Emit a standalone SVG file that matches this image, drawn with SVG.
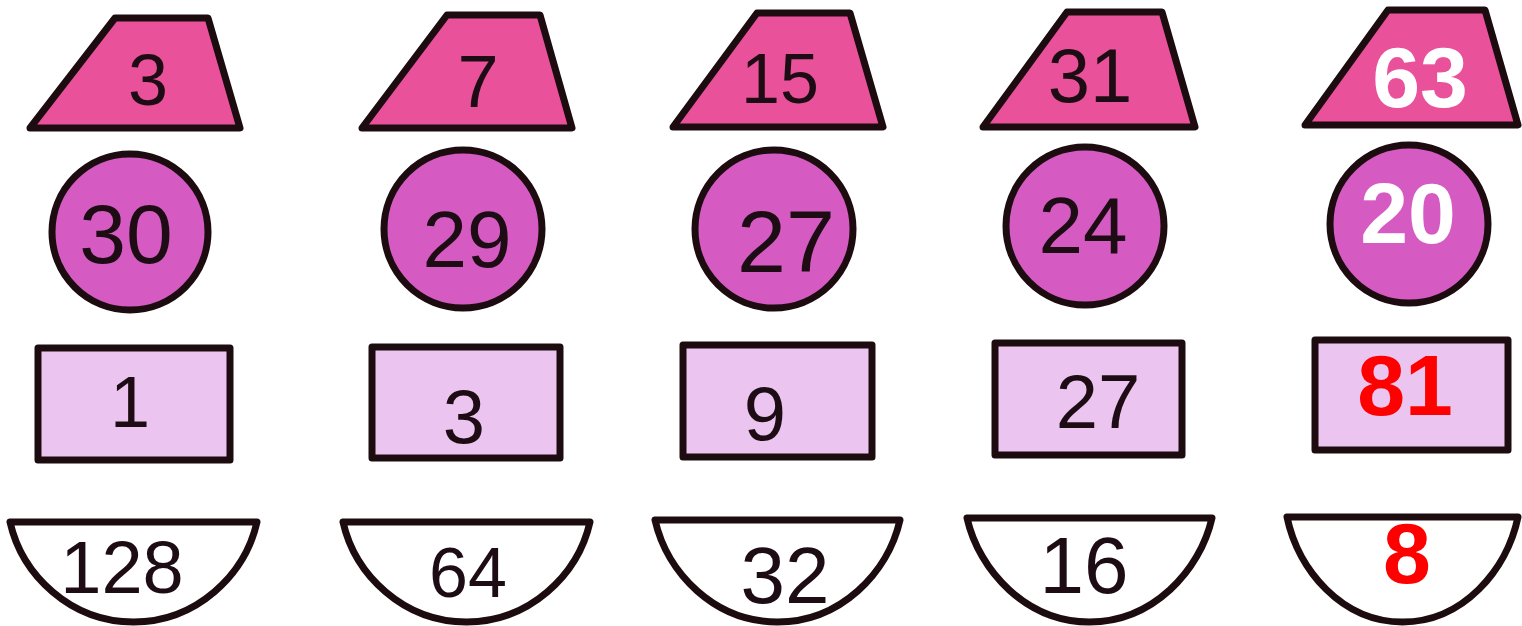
<svg xmlns="http://www.w3.org/2000/svg" width="1522" height="626" viewBox="0 0 1522 626">
<style>
.s{stroke:#1c0c10;stroke-width:7;stroke-linejoin:round}
.trap{fill:#E9519B}
.circ{fill:#D55BC3}
.rect{fill:#ECC4F0}
.half{fill:#FFFFFF}
.h{font-family:"Liberation Sans","DejaVu Sans",sans-serif;fill:#1e0c14;text-anchor:middle}
.b{font-family:"Liberation Sans",Arial,sans-serif;font-weight:bold;text-anchor:middle;font-size:86px}
</style>
<rect width="1522" height="626" fill="#FFFFFF"/>
<g id="connectors"/>
<!-- Column 1 -->
<g id="trap1"><polygon class="s trap" points="115,18 208,18 240,128 30,128"/><text class="h" x="148" y="105" font-size="72">3</text></g>
<g id="circ1"><circle class="s circ" cx="130" cy="232" r="78"/><text class="h" x="126" y="263" font-size="84">30</text></g>
<g id="rect1"><rect class="s rect" x="38" y="348" width="192" height="112"/><text class="h" x="130" y="427" font-size="72">1</text></g>
<g id="half1"><path class="s half" d="M10,522 H257 C245,575 196.5,622 133.5,622 C70.5,622 22,575 10,522 Z"/><text class="h" x="122" y="593" font-size="74">128</text></g>
<!-- Column 2 -->
<g id="trap2"><polygon class="s trap" points="447,15 540,15 572,128 362,128"/><text class="h" x="478" y="107" font-size="74">7</text></g>
<g id="circ2"><circle class="s circ" cx="463" cy="229" r="79"/><text class="h" x="467" y="267" font-size="80">29</text></g>
<g id="rect2"><rect class="s rect" x="372" y="347" width="188" height="111"/><text class="h" x="464" y="443" font-size="76">3</text></g>
<g id="half2"><path class="s half" d="M343,522 H590 C578,575 529.5,622 466.5,622 C403.5,622 355,575 343,522 Z"/><text class="h" x="468" y="597" font-size="70">64</text></g>
<!-- Column 3 -->
<g id="trap3"><polygon class="s trap" points="757,13 850,13 883,127 673,127"/><text class="h" x="780" y="103" font-size="70">15</text></g>
<g id="circ3"><circle class="s circ" cx="774" cy="229" r="79"/><text class="h" x="786" y="272" font-size="88">27</text></g>
<g id="rect3"><rect class="s rect" x="683" y="345" width="189" height="112"/><text class="h" x="765" y="440" font-size="76">9</text></g>
<g id="half3"><path class="s half" d="M655,520 H900 C888,573 840.5,622 777.5,622 C714.5,622 667,573 655,520 Z"/><text class="h" x="785" y="603" font-size="80">32</text></g>
<!-- Column 4 -->
<g id="trap4"><polygon class="s trap" points="1067,12 1162,12 1195,127 983,127"/><text class="h" x="1090" y="102" font-size="76">31</text></g>
<g id="circ4"><circle class="s circ" cx="1085" cy="226" r="79"/><text class="h" x="1083" y="253" font-size="80">24</text></g>
<g id="rect4"><rect class="s rect" x="995" y="343" width="187" height="112"/><text class="h" x="1098" y="428" font-size="76">27</text></g>
<g id="half4"><path class="s half" d="M967,518 H1212 C1200,571 1152.5,622 1089.5,622 C1026.5,622 979,571 967,518 Z"/><text class="h" x="1084" y="593" font-size="80">16</text></g>
<!-- Column 5 -->
<g id="trap5"><polygon class="s trap" points="1388,10 1485,10 1518,125 1305,125"/><text class="b" x="1420" y="107" fill="#FFFFFF">63</text></g>
<g id="circ5"><circle class="s circ" cx="1409" cy="224" r="79"/><text class="b" x="1408" y="243" fill="#FFFFFF">20</text></g>
<g id="rect5"><rect class="s rect" x="1315" y="340" width="193" height="110"/><text class="b" x="1405" y="415" fill="#FF0000">81</text></g>
<g id="half5"><path class="s half" d="M1287,517 H1518 C1507,570 1463,622 1402.5,622 C1342,622 1298,570 1287,517 Z"/><text class="b" x="1407" y="583" fill="#FF0000">8</text></g>
</svg>
